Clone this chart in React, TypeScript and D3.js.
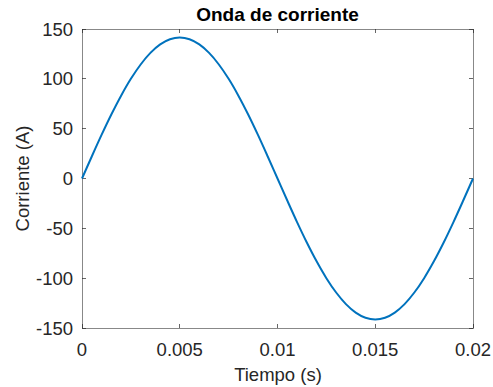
import React from 'react';
import * as d3 from 'd3';

// tiempo (s) y corriente (A)
const tiempo = [
  0, 0.0005, 0.001, 0.0015, 0.002, 0.0025, 0.003, 0.0035, 0.004, 0.0045,
  0.005, 0.0055, 0.006, 0.0065, 0.007, 0.0075, 0.008, 0.0085, 0.009, 0.0095,
  0.01, 0.0105, 0.011, 0.0115, 0.012, 0.0125, 0.013, 0.0135, 0.014, 0.0145,
  0.015, 0.0155, 0.016, 0.0165, 0.017, 0.0175, 0.018, 0.0185, 0.019, 0.0195, 0.02,
];
const corriente = [
  0, 22.1, 43.7, 64.2, 83.1, 100, 114.4, 126.0, 134.5, 139.7,
  141.4, 139.7, 134.5, 126.0, 114.4, 100, 83.1, 64.2, 43.7, 22.1,
  0, -22.1, -43.7, -64.2, -83.1, -100, -114.4, -126.0, -134.5, -139.7,
  -141.4, -139.7, -134.5, -126.0, -114.4, -100, -83.1, -64.2, -43.7, -22.1, 0,
];
const xTicks = [0, 0.005, 0.01, 0.015, 0.02];
const yTicks = [-150, -100, -50, 0, 50, 100, 150];

const W = 493;
const H = 387;
const margin = { left: 82, right: 20, top: 29, bottom: 59 };
const font = '"Liberation Sans", Arial, Helvetica, sans-serif';
const fs = 18.5;

export default function App() {
  const x = d3.scaleLinear().domain([0, 0.02]).range([margin.left, W - margin.right]);
  const y = d3.scaleLinear().domain([-150, 150]).range([H - margin.bottom, margin.top]);
  const line = d3.line<number>()
    .x((d, i) => x(tiempo[i]))
    .y(d => y(d))
    .curve(d3.curveCatmullRom);

  const x0 = margin.left, x1 = W - margin.right;
  const y0 = H - margin.bottom, y1 = margin.top;
  const axisColor = '#262626';
  const tk = 4;

  return (
    <svg width={W} height={H} style={{ position: 'absolute', left: 0, top: 0, background: '#fff' }}>
      <rect x={0} y={0} width={W} height={H} fill="#fff" />
      {/* caja */}
      <rect x={x0} y={y1} width={x1 - x0} height={y0 - y1} fill="none" stroke={axisColor} strokeOpacity={0.55} strokeWidth={1} shapeRendering="crispEdges" />
      {xTicks.map(t => (
        <g key={'x' + t}>
          <line x1={x(t)} x2={x(t)} y1={y0} y2={y0 - tk} stroke={axisColor} strokeOpacity={0.7} shapeRendering="crispEdges" />
          <line x1={x(t)} x2={x(t)} y1={y1} y2={y1 + tk} stroke={axisColor} strokeOpacity={0.7} shapeRendering="crispEdges" />
          <text x={x(t)} y={y0 + 28} textAnchor="middle" fontFamily={font} fontSize={fs} fill="#262626">{String(t)}</text>
        </g>
      ))}
      {yTicks.map(t => (
        <g key={'y' + t}>
          <line x1={x0} x2={x0 + tk} y1={y(t)} y2={y(t)} stroke={axisColor} strokeOpacity={0.7} shapeRendering="crispEdges" />
          <line x1={x1} x2={x1 - tk} y1={y(t)} y2={y(t)} stroke={axisColor} strokeOpacity={0.7} shapeRendering="crispEdges" />
          <text x={x0 - 9} y={y(t) + 6.5} textAnchor="end" fontFamily={font} fontSize={fs} fill="#262626">{String(t)}</text>
        </g>
      ))}
      <path d={line(corriente) ?? ''} fill="none" stroke="#0072BD" strokeWidth={2} />
      <text x={277.5} y={20.5} textAnchor="middle" fontFamily={font} fontSize={19} fontWeight="bold" fill="#000">Onda de corriente</text>
      <text x={278} y={381} textAnchor="middle" fontFamily={font} fontSize={fs} fill="#262626">Tiempo (s)</text>
      <text transform={`translate(28.5,178.5) rotate(-90)`} textAnchor="middle" fontFamily={font} fontSize={fs} fill="#262626">Corriente (A)</text>
    </svg>
  );
}
